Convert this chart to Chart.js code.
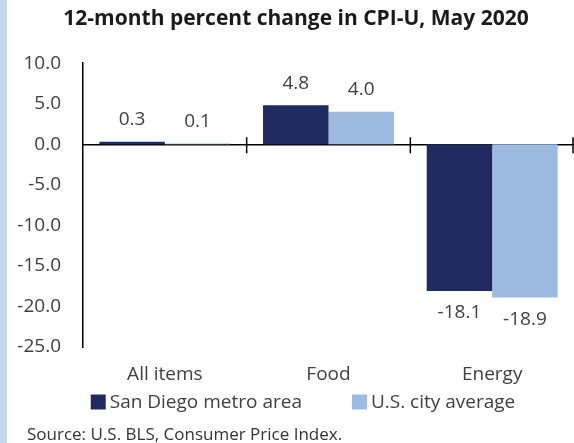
<!DOCTYPE html>
<html>
<head>
<meta charset="utf-8">
<script src="https://cdn.jsdelivr.net/npm/chart.js@4.4.0/dist/chart.umd.min.js"></script>
<style>
  html, body { margin: 0; padding: 0; background: #ffffff; }
  #wrap {
    position: relative;
    width: 574px;
    height: 443px;
    box-sizing: border-box;
    border-left: 7px solid #c6d6ee;
  }
  #wrap canvas { position: absolute; left: -7px; top: 0; }
</style>
</head>
<body>
<div id="wrap"><canvas id="cpiChart" width="574" height="443"></canvas></div>
<script>
// Chart data
const categories = ['All items', 'Food', 'Energy'];
const sanDiego = [0.3, 4.8, -18.1];
const usCity = [0.1, 4.0, -18.9];
const seriesNames = ['San Diego metro area', 'U.S. city average'];
const yTicks = [10, 5, 0, -5, -10, -15, -20, -25];

const TEXT_COLOR = '#404040';
const FONT = '"Open Sans"';

// Value labels above / below each bar
const valueLabels = {
  id: 'valueLabels',
  afterDatasetsDraw(chart) {
    const ctx = chart.ctx;
    ctx.save();
    ctx.font = `19px ${FONT}`;
    ctx.fillStyle = TEXT_COLOR;
    ctx.textAlign = 'center';
    ctx.textBaseline = 'middle';
    chart.data.datasets.forEach((ds, i) => {
      chart.getDatasetMeta(i).data.forEach((bar, j) => {
        const v = ds.data[j];
        const y = v >= 0 ? bar.y - 22 : bar.y + 22;
        ctx.fillText(v.toFixed(1), bar.x, y);
      });
    });
    ctx.restore();
  }
};

// Tick marks crossing the zero line between categories
const zeroTicks = {
  id: 'zeroTicks',
  afterDatasetsDraw(chart) {
    const x = chart.scales.x;
    const y0 = chart.scales.y.getPixelForValue(0);
    const ctx = chart.ctx;
    ctx.save();
    ctx.strokeStyle = '#000000';
    ctx.lineWidth = 1.5;
    for (let i = 0; i < categories.length; i++) {
      const px = i < categories.length - 1
        ? (x.getPixelForValue(i) + x.getPixelForValue(i + 1)) / 2
        : chart.chartArea.right - 1;
      ctx.beginPath();
      ctx.moveTo(px, y0 - 7);
      ctx.lineTo(px, y0 + 9);
      ctx.stroke();
    }
    ctx.restore();
  }
};

// Legend row and source note under the chart
const footer = {
  id: 'footer',
  afterDraw(chart) {
    const ctx = chart.ctx;
    ctx.save();
    ctx.textBaseline = 'middle';
    ctx.textAlign = 'left';

    // legend: square swatch, small gap, label; items centred on x = 303
    ctx.font = `19px ${FONT}`;
    const box = 15, gap = 4, itemGap = 50, legendY = 402;
    const items = chart.data.datasets.map(ds => ({
      label: ds.label,
      color: ds.backgroundColor,
      w: box + gap + ctx.measureText(ds.label).width
    }));
    const total = items.reduce((s, it) => s + it.w, 0) + itemGap * (items.length - 1);
    let x = 303 - total / 2;
    items.forEach(it => {
      ctx.fillStyle = it.color;
      ctx.fillRect(x, legendY - box / 2, box, box);
      ctx.fillStyle = TEXT_COLOR;
      ctx.fillText(it.label, x + box + gap, legendY + 1);
      x += it.w + itemGap;
    });

    ctx.font = `17px ${FONT}`;
    ctx.fillStyle = '#333333';
    ctx.fillText('Source: U.S. BLS, Consumer Price Index.', 27, 435);
    ctx.restore();
  }
};

new Chart(document.getElementById('cpiChart'), {
  type: 'bar',
  data: {
    labels: categories,
    datasets: [
      {
        label: seriesNames[0],
        data: sanDiego,
        backgroundColor: '#1f2b5e',
        categoryPercentage: 0.8,
        barPercentage: 1.0
      },
      {
        label: seriesNames[1],
        data: usCity,
        backgroundColor: '#9dbae0',
        categoryPercentage: 0.8,
        barPercentage: 1.0
      }
    ]
  },
  options: {
    responsive: false,
    animation: false,
    layout: { padding: { left: 18, right: 0, top: 0, bottom: 58 } },
    plugins: {
      title: {
        display: true,
        text: '12-month percent change in CPI-U, May 2020',
        color: '#1a1a1a',
        font: { family: FONT, size: 21, weight: 'bold' },
        padding: { top: 6, bottom: 32 }
      },
      legend: { display: false },
      tooltip: { enabled: false }
    },
    scales: {
      x: {
        position: { y: 0 },
        offset: true,
        grid: { display: false, drawTicks: false },
        border: { display: true, color: '#000000', width: 1.5 },
        ticks: { display: false }
      },
      xLabels: {
        type: 'category',
        position: 'bottom',
        offset: true,
        grid: { display: false, drawTicks: false },
        border: { display: false },
        afterFit(scale) {
          scale.height = 38;
        },
        ticks: {
          color: TEXT_COLOR,
          font: { family: FONT, size: 19 },
          padding: 16
        }
      },
      y: {
        min: -25,
        max: 10,
        afterBuildTicks(scale) {
          scale.ticks = yTicks.map(v => ({ value: v }));
        },
        afterFit(scale) {
          scale.width = 65;
        },
        grid: { display: false, drawTicks: false },
        border: { display: true, color: '#000000', width: 1.5 },
        ticks: {
          color: TEXT_COLOR,
          font: { family: FONT, size: 19 },
          padding: 22,
          callback: (v) => Number(v).toFixed(1)
        }
      }
    }
  },
  plugins: [valueLabels, zeroTicks, footer]
});
</script>
</body>
</html>
